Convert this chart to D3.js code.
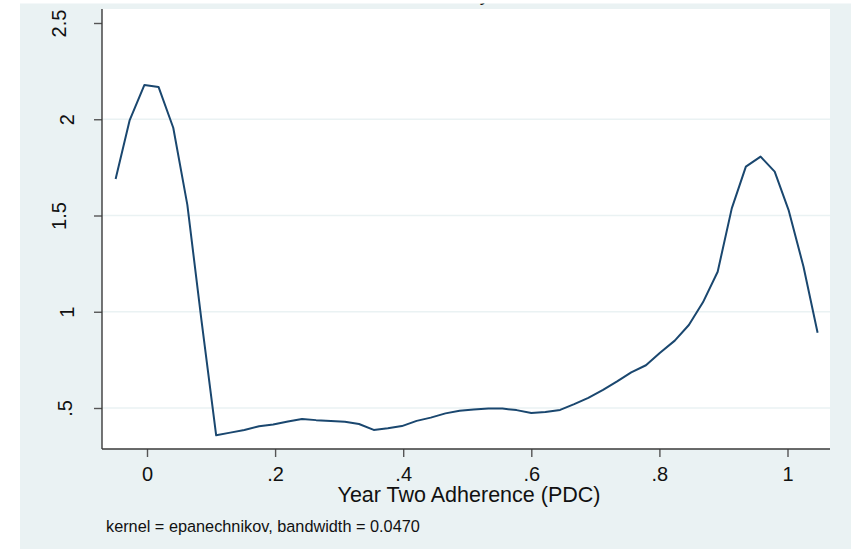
<!DOCTYPE html>
<html>
<head>
<meta charset="utf-8">
<script src="https://cdn.jsdelivr.net/npm/d3@7"></script>
<style>
html, body { margin: 0; padding: 0; background: #ffffff; }
svg { display: block; }
text { font-family: "Liberation Sans", Arial, Helvetica, sans-serif; fill: #111; }
</style>
</head>
<body>
<script>
// Evaluation points (Year Two Adherence, PDC)
const xValues = [-0.049, -0.027, -0.004, 0.018, 0.041, 0.063, 0.085, 0.108, 0.130, 0.152,
  0.175, 0.197, 0.220, 0.242, 0.264, 0.287, 0.309, 0.331, 0.354, 0.376,
  0.398, 0.421, 0.443, 0.466, 0.488, 0.510, 0.533, 0.555, 0.577, 0.600,
  0.622, 0.645, 0.667, 0.689, 0.712, 0.734, 0.756, 0.779, 0.801, 0.824,
  0.846, 0.868, 0.891, 0.913, 0.935, 0.958, 0.980, 1.002, 1.025, 1.047];
// Kernel density estimates
const densityValues = [1.690, 1.996, 2.178, 2.168, 1.956, 1.555, 0.957, 0.358, 0.372, 0.386,
  0.405, 0.414, 0.430, 0.443, 0.437, 0.433, 0.428, 0.417, 0.386, 0.395,
  0.406, 0.433, 0.450, 0.472, 0.486, 0.492, 0.497, 0.497, 0.489, 0.474,
  0.479, 0.490, 0.520, 0.553, 0.594, 0.638, 0.685, 0.722, 0.787, 0.850,
  0.931, 1.049, 1.208, 1.537, 1.754, 1.806, 1.728, 1.525, 1.234, 0.891];
const xTickValues = [0, 0.2, 0.4, 0.6, 0.8, 1];
const xTickLabels = ["0", ".2", ".4", ".6", ".8", "1"];
const yTickValues = [0.5, 1, 1.5, 2, 2.5];
const yTickLabels = [".5", "1", "1.5", "2", "2.5"];
const yGridValues = [0.5, 1, 1.5, 2];
const titleText = "Kernel density estimate";
const xTitleText = "Year Two Adherence (PDC)";
const noteText = "kernel = epanechnikov, bandwidth = 0.0470";

const W = 854, H = 549;
const bg = {x0: 20, y0: 3.5, x1: 851, y1: 549};
const plot = {left: 102, right: 830, top: 9, bottom: 449};
const FONT = '"Liberation Sans", Arial, sans-serif';

const svg = d3.select("body").append("svg").attr("width", W).attr("height", H);

// outer graph region
svg.append("rect").attr("x", bg.x0).attr("y", bg.y0)
  .attr("width", bg.x1 - bg.x0).attr("height", bg.y1 - bg.y0).attr("fill", "#eaf2f3");

// clip for the title (only its descender shows, as in the reference)
svg.append("clipPath").attr("id", "bgclip").append("rect")
  .attr("x", bg.x0).attr("y", bg.y0).attr("width", bg.x1 - bg.x0).attr("height", bg.y1 - bg.y0);

// plot region
svg.append("rect").attr("x", plot.left).attr("y", plot.top)
  .attr("width", plot.right - plot.left).attr("height", plot.bottom - plot.top).attr("fill", "#ffffff");

const x = d3.scaleLinear().domain([0, 1]).range([147, 787.5]);
const y = d3.scaleLinear().domain([0.5, 2.5]).range([408, 23]);

// grid lines
svg.append("g").selectAll("line").data(yGridValues).join("line")
  .attr("x1", plot.left).attr("x2", plot.right)
  .attr("y1", d => y(d)).attr("y2", d => y(d))
  .attr("stroke", "#eaf2f3").attr("stroke-width", 1.5);

// density line
const line = d3.line().x((d, i) => x(xValues[i])).y(d => y(d));
svg.append("path").datum(densityValues)
  .attr("d", line).attr("fill", "none")
  .attr("stroke", "#1a476f").attr("stroke-width", 2).attr("stroke-linejoin", "round");

// x axis
const xAxis = d3.axisBottom(x).tickValues(xTickValues)
  .tickFormat((d, i) => xTickLabels[i]).tickSize(8).tickSizeOuter(0);
const gx = svg.append("g").attr("transform", `translate(0,${plot.bottom})`).call(xAxis);
gx.select(".domain").remove();
gx.selectAll(".tick line").attr("stroke", "#555").attr("stroke-width", 1.4);
gx.selectAll(".tick text").attr("y", 0).attr("dy", null)
  .attr("transform", "translate(0,32)")
  .style("font-size", "20px").style("font-family", FONT)
  .attr("fill", "#111");
svg.append("line").attr("x1", plot.left).attr("x2", plot.right)
  .attr("y1", plot.bottom).attr("y2", plot.bottom)
  .attr("stroke", "#3a3a3a").attr("stroke-width", 1.4);

// y axis
const yAxis = d3.axisLeft(y).tickValues(yTickValues)
  .tickFormat((d, i) => yTickLabels[i]).tickSize(8).tickSizeOuter(0);
const gy = svg.append("g").attr("transform", `translate(${plot.left},0)`).call(yAxis);
gy.select(".domain").remove();
gy.selectAll(".tick line").attr("stroke", "#555").attr("stroke-width", 1.4);
const labelRight = 73 - plot.left;
gy.selectAll(".tick text").each(function () {
  const t = d3.select(this);
  t.attr("x", 0).attr("dy", null).attr("y", 0)
    .style("font-size", "20px").style("font-family", FONT)
    .attr("fill", "#111").attr("text-anchor", "middle").attr("dominant-baseline", "central");
  const w = this.getComputedTextLength();
  const cx = labelRight - w / 2;
  t.attr("transform", `translate(${cx},0) rotate(-90)`);
});
svg.append("line").attr("x1", plot.left).attr("x2", plot.left)
  .attr("y1", plot.top).attr("y2", plot.bottom)
  .attr("stroke", "#3a3a3a").attr("stroke-width", 1.4);

// axis title
svg.append("text").attr("x", 469).attr("y", 502).attr("text-anchor", "middle")
  .style("font-size", "21.5px").text(xTitleText);

// note
svg.append("text").attr("x", 106).attr("y", 531.5)
  .style("font-size", "16.3px").text(noteText);

// title (cut off at the top of the graph, as in the reference)
svg.append("text").attr("clip-path", "url(#bgclip)")
  .attr("x", 467).attr("y", 1).attr("text-anchor", "middle")
  .style("font-size", "20px").text(titleText);
</script>
</body>
</html>
